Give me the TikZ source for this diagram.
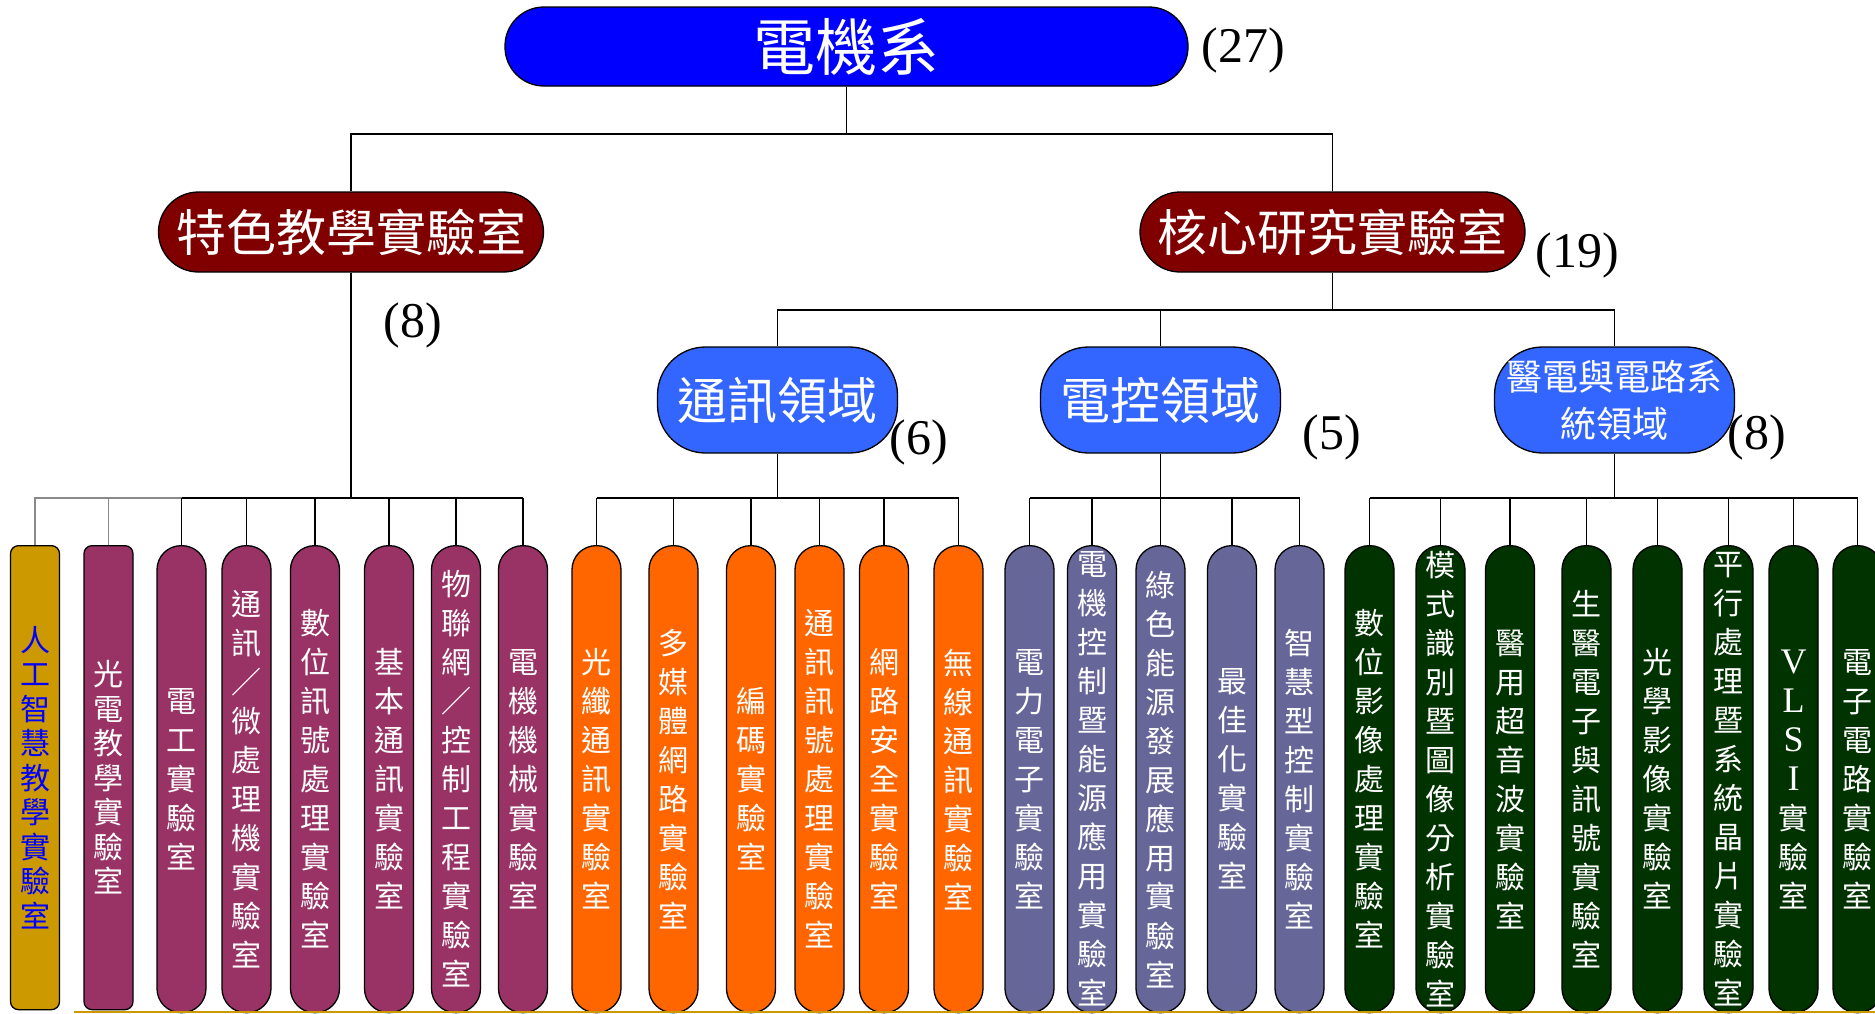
\documentclass[tikz,border=0pt]{standalone}
\usepackage{fontspec}
\setmainfont{Liberation Serif}
\newfontfamily\cjk{Noto Sans CJK TC}
\usepackage{xcolor}
\definecolor{deptblue}{HTML}{0000FF}
\definecolor{labred}{HTML}{800000}
\definecolor{fieldblue}{HTML}{3366FF}
\definecolor{teachred}{HTML}{993366}
\definecolor{aigold}{HTML}{CC9900}
\definecolor{commorange}{HTML}{FF6600}
\definecolor{ctrlpurple}{HTML}{666699}
\definecolor{biogreen}{HTML}{003300}
\definecolor{linkgray}{HTML}{898989}
\newcommand{\vlsiletter}[1]{{\rmfamily\fontsize{36}{39}\selectfont #1}}

\begin{document}
\begin{tikzpicture}[x=1pt, y=-1pt,
  link/.style={line width=1.3pt},
  graylink/.style={line width=1.3pt, draw=linkgray},
  headbox/.style={draw=black, line width=1.3pt, text=white, inner sep=0pt},
  dept/.style={headbox, fill=deptblue, minimum width=683pt, minimum height=79pt, rounded corners=39pt, font=\cjk\fontsize{62}{62}\selectfont},
  labgroup/.style={headbox, fill=labred, minimum width=385pt, minimum height=80pt, rounded corners=40pt, font=\cjk\fontsize{50}{50}\selectfont},
  field/.style={headbox, fill=fieldblue, minimum width=240pt, minimum height=106pt, rounded corners=48pt, font=\cjk\fontsize{50}{50}\selectfont},
  bar/.style={draw=black, line width=1.3pt, inner sep=0pt, anchor=north, minimum width=49pt, minimum height=467pt, rounded corners=24pt, text=white, align=center, font=\cjk\fontsize{30}{39}\selectfont},
  squarebar/.style={bar, rounded corners=8pt, minimum height=464pt, font=\cjk\fontsize{30}{34.5}\selectfont},
  count/.style={inner sep=0pt, font=\fontsize{50}{50}\selectfont}]
\useasboundingbox (0,0) rectangle (1875,1013);

%head nodes
\node[dept] (dept) at (846.5,46.5) {電機系};
\node[labgroup] (teach) at (351,232) {特色教學實驗室};
\node[labgroup] (core) at (1332.5,232) {核心研究實驗室};
\node[field] (comm) at (777.5,400) {通訊領域};
\node[field] (ctrl) at (1160.5,400) {電控領域};
\node[field, align=center, font=\cjk\fontsize{36}{47}\selectfont] (bio) at (1614.5,400) {醫電與電路系\\統領域};
%counts
\node[count] (cdept) at (1243,50) {(27)}; \node[count] (cteach) at (413,325) {(8)}; \node[count] (ccore) at (1577,255) {(19)};
\node[count] (ccomm) at (919,442) {(6)}; \node[count] (cctrl) at (1332,437) {(5)}; \node[count] (cbio) at (1757,437) {(8)};

%teaching labs
\node[squarebar, fill=aigold, text=deptblue] (l1) at (35,545) {人\\工\\智\\慧\\教\\學\\實\\驗\\室};
\node[squarebar, fill=teachred] (l2) at (108.5,545) {光\\電\\教\\學\\實\\驗\\室};
\node[bar, fill=teachred] (l3) at (181.5,545) {電\\工\\實\\驗\\室};
\node[bar, fill=teachred] (l4) at (246.5,545) {通\\訊\\／\\微\\處\\理\\機\\實\\驗\\室};
\node[bar, fill=teachred] (l5) at (315,545) {數\\位\\訊\\號\\處\\理\\實\\驗\\室};
\node[bar, fill=teachred] (l6) at (389,545) {基\\本\\通\\訊\\實\\驗\\室};
\node[bar, fill=teachred] (l7) at (456,545) {物\\聯\\網\\／\\控\\制\\工\\程\\實\\驗\\室};
\node[bar, fill=teachred] (l8) at (523,545) {電\\機\\機\\械\\實\\驗\\室};
%communication labs
\node[bar, fill=commorange] (o1) at (596.5,545) {光\\纖\\通\\訊\\實\\驗\\室};
\node[bar, fill=commorange] (o2) at (673.5,545) {多\\媒\\體\\網\\路\\實\\驗\\室};
\node[bar, fill=commorange] (o3) at (751,545) {編\\碼\\實\\驗\\室};
\node[bar, fill=commorange] (o4) at (819.5,545) {通\\訊\\訊\\號\\處\\理\\實\\驗\\室};
\node[bar, fill=commorange] (o5) at (884,545) {網\\路\\安\\全\\實\\驗\\室};
\node[bar, fill=commorange] (o6) at (958.5,545) {無\\線\\通\\訊\\實\\驗\\室};
%control labs
\node[bar, fill=ctrlpurple] (p1) at (1029.5,545) {電\\力\\電\\子\\實\\驗\\室};
\node[bar, fill=ctrlpurple] (p2) at (1092,545) {電\\機\\控\\制\\暨\\能\\源\\應\\用\\實\\驗\\室};
\node[bar, fill=ctrlpurple] (p3) at (1160.5,545) {綠\\色\\能\\源\\發\\展\\應\\用\\實\\驗\\室};
\node[bar, fill=ctrlpurple] (p4) at (1232,545) {最\\佳\\化\\實\\驗\\室};
\node[bar, fill=ctrlpurple] (p5) at (1299.5,545) {智\\慧\\型\\控\\制\\實\\驗\\室};
%bio and circuit labs
\node[bar, fill=biogreen] (g1) at (1369.5,545) {數\\位\\影\\像\\處\\理\\實\\驗\\室};
\node[bar, fill=biogreen] (g2) at (1440.5,545) {模\\式\\識\\別\\暨\\圖\\像\\分\\析\\實\\驗\\室};
\node[bar, fill=biogreen] (g3) at (1510,545) {醫\\用\\超\\音\\波\\實\\驗\\室};
\node[bar, fill=biogreen] (g4) at (1586.5,545) {生\\醫\\電\\子\\與\\訊\\號\\實\\驗\\室};
\node[bar, fill=biogreen] (g5) at (1657.5,545) {光\\學\\影\\像\\實\\驗\\室};
\node[bar, fill=biogreen] (g6) at (1728.5,545) {平\\行\\處\\理\\暨\\系\\統\\晶\\片\\實\\驗\\室};
\node[bar, fill=biogreen] (g7) at (1793.5,545) {\vlsiletter{V}\\\vlsiletter{L}\\\vlsiletter{S}\\\vlsiletter{I}\\實\\驗\\室};
\node[bar, fill=biogreen] (g8) at (1857.5,545) {電\\子\\電\\路\\實\\驗\\室};

%bus coordinates
\coordinate (busT) at (0,134); \coordinate (busC) at (0,310); \coordinate (busB) at (0,498);
%upper links
\draw[link] (dept.south) -- (dept.south |- busT);
\draw[link] (teach.north) |- (dept.south |- busT) -| (core.north);
\draw[link] (core.south) -- (core.south |- busC);
\draw[link] (comm.north) |- (core.south |- busC) -| (bio.north);
\draw[link] (ctrl.north) -- (ctrl.north |- busC);
%teaching lab links
\draw[link] (teach.south) -- (teach.south |- busB);
\draw[graylink] (l1.north) |- (l3.north |- busB); \draw[graylink] (l2.north) -- (l2.north |- busB);
\draw[link] (l3.north |- busB) -- (l8.north |- busB);
\draw[link] (l3.north) -- (l3.north |- busB); \draw[link] (l4.north) -- (l4.north |- busB); \draw[link] (l5.north) -- (l5.north |- busB);
\draw[link] (l6.north) -- (l6.north |- busB); \draw[link] (l7.north) -- (l7.north |- busB); \draw[link] (l8.north) -- (l8.north |- busB);
%communication links
\draw[link] (comm.south) -- (comm.south |- busB);
\draw[link] (o1.north |- busB) -- (o6.north |- busB);
\draw[link] (o1.north) -- (o1.north |- busB); \draw[link] (o2.north) -- (o2.north |- busB); \draw[link] (o3.north) -- (o3.north |- busB);
\draw[link] (o4.north) -- (o4.north |- busB); \draw[link] (o5.north) -- (o5.north |- busB); \draw[link] (o6.north) -- (o6.north |- busB);
%control links
\draw[link] (ctrl.south) -- (ctrl.south |- busB);
\draw[link] (p1.north |- busB) -- (p5.north |- busB);
\draw[link] (p1.north) -- (p1.north |- busB); \draw[link] (p2.north) -- (p2.north |- busB); \draw[link] (p3.north) -- (p3.north |- busB);
\draw[link] (p4.north) -- (p4.north |- busB); \draw[link] (p5.north) -- (p5.north |- busB);
%bio links
\draw[link] (bio.south) -- (bio.south |- busB);
\draw[link] (g1.north |- busB) -- (g8.north |- busB);
\draw[link] (g1.north) -- (g1.north |- busB); \draw[link] (g2.north) -- (g2.north |- busB); \draw[link] (g3.north) -- (g3.north |- busB); \draw[link] (g4.north) -- (g4.north |- busB);
\draw[link] (g5.north) -- (g5.north |- busB); \draw[link] (g6.north) -- (g6.north |- busB); \draw[link] (g7.north) -- (g7.north |- busB); \draw[link] (g8.north) -- (g8.north |- busB);

%bottom rule
\draw[line width=2.5pt, aigold] (74,1012) -- (1875,1012);
\end{tikzpicture}
\end{document}
